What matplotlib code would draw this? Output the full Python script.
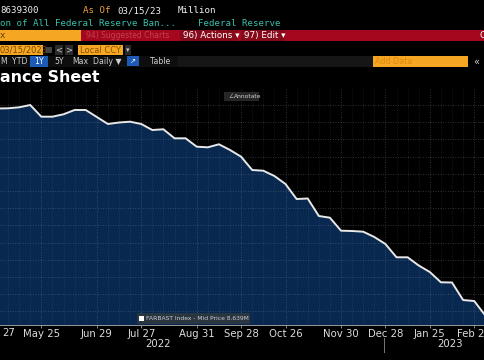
import matplotlib
matplotlib.use("Agg")
import matplotlib.pyplot as plt
import matplotlib.dates as mdates
from matplotlib.patches import Rectangle
from matplotlib.ticker import MultipleLocator, FixedLocator, NullFormatter
import datetime as dt

# ---------------- data (weekly, USD millions) ----------------
dates = ["2022-04-27", "2022-05-04", "2022-05-11", "2022-05-18", "2022-05-25",
         "2022-06-01", "2022-06-08", "2022-06-15", "2022-06-22", "2022-06-29",
         "2022-07-06", "2022-07-13", "2022-07-20", "2022-07-27", "2022-08-03",
         "2022-08-10", "2022-08-17", "2022-08-24", "2022-08-31", "2022-09-07",
         "2022-09-14", "2022-09-21", "2022-09-28", "2022-10-05", "2022-10-12",
         "2022-10-19", "2022-10-26", "2022-11-02", "2022-11-09", "2022-11-16",
         "2022-11-23", "2022-11-30", "2022-12-07", "2022-12-14", "2022-12-21",
         "2022-12-28", "2023-01-04", "2023-01-11", "2023-01-18", "2023-01-25",
         "2023-02-01", "2023-02-08", "2023-02-15", "2023-02-22", "2023-03-01",
         "2023-03-08", "2023-03-15"]
values = [8939800, 8940400, 8943300, 8950000, 8916000,
          8916000, 8923000, 8935500, 8935500, 8915100,
          8894800, 8899100, 8901500, 8894800, 8877300,
          8879400, 8853200, 8853200, 8828800, 8827000,
          8835800, 8819200, 8799700, 8761000, 8759000,
          8743600, 8720300, 8676700, 8678200, 8627300,
          8622400, 8584600, 8583700, 8581700, 8566300,
          8545900, 8507300, 8507300, 8483400, 8464500,
          8434600, 8434000, 8383100, 8380200, 8338100,
          8341600, 8639300]
tick_dates = ["2022-05-25", "2022-06-29", "2022-07-27", "2022-08-31",
              "2022-09-28", "2022-10-26", "2022-11-30", "2022-12-28", "2023-01-25",
              "2023-02-22"]
tick_labels = ["May 25", "Jun 29", "Jul 27", "Aug 31", "Sep 28",
               "Oct 26", "Nov 30", "Dec 28", "Jan 25", "Feb 22"]
cut_first_label = "27"          # tail of "Apr 27", cut by the left edge
year_labels = ["2022", "2023"]

# ---------------- figure ----------------
W, H = 485, 360
fig = plt.figure(figsize=(W / 100, H / 100), dpi=100, facecolor="black")

def fx(x):
    return x / W

def fy(y):
    return 1 - y / H

def rect(x0, y0, x1, y1, color, z=1):
    fig.add_artist(Rectangle((fx(x0), fy(y1)), fx(x1) - fx(x0), fy(y0) - fy(y1),
                             transform=fig.transFigure, facecolor=color,
                             edgecolor="none", zorder=z))

def txt(x, y, s, color="white", size=6.6, family="DejaVu Sans Mono", ha="left",
        weight="normal", z=3):
    fig.text(fx(x), fy(y), s, color=color, fontsize=size, family=family, ha=ha,
             va="center", weight=weight, zorder=z)

# ---------------- plot area ----------------
ax = fig.add_axes([0, fy(325), 1, fy(88) - fy(325)])
ax.set_facecolor("black")

x = [mdates.date2num(dt.datetime.strptime(d, "%Y-%m-%d")) for d in dates]
ref = mdates.date2num(dt.datetime(2022, 5, 25))
ax.set_xlim(ref - 26.05, ref + 279.8)
ax.set_ylim(8310465, 8999419)

ax.fill_between(x, values, 8000000, color="#09284f", linewidth=0, zorder=0.3)
ax.plot(x, values, color="#e8e8e8", linewidth=1.4, zorder=3)

tx = [mdates.date2num(dt.datetime.strptime(d, "%Y-%m-%d")) for d in tick_dates]
ax.xaxis.set_major_locator(FixedLocator(tx))
ax.set_xticklabels(tick_labels)
ax.xaxis.set_minor_locator(mdates.WeekdayLocator(byweekday=mdates.WE))
ax.yaxis.set_major_locator(MultipleLocator(50000))
ax.yaxis.set_major_formatter(NullFormatter())
ax.set_axisbelow(True)
ax.grid(True, which="major", axis="both", color="#6a7c90", linestyle=(0, (1, 2)),
        linewidth=0.6, alpha=0.55)
ax.grid(True, which="minor", axis="x", color="#6a7c90", linestyle=(0, (1, 2)),
        linewidth=0.5, alpha=0.35)
ax.tick_params(axis="x", which="major", colors="#9a9a9a", labelcolor="#dcdcdc",
               labelsize=7.3, length=2, width=0.6, pad=0.8)
ax.tick_params(axis="x", which="minor", length=0)
ax.tick_params(axis="y", length=0)
for s in ["top", "left", "right"]:
    ax.spines[s].set_visible(False)
ax.spines["bottom"].set_color("#9a9a9a")
ax.spines["bottom"].set_linewidth(0.7)

txt(8.5, 332.5, cut_first_label, color="#dcdcdc", size=7.3, family="DejaVu Sans", ha="center")

# legend box
rect(137, 313, 250, 323.5, "#2a3542", z=4)
rect(139.5, 315.5, 144.5, 320.5, "white", z=5)
txt(146, 318.3, "FARBAST Index - Mid Price 8.639M", color="#d0d0d0", size=4.3,
    family="DejaVu Sans", z=5)

# annotate label
rect(224, 91.5, 259, 101, "#262626", z=4)
txt(228, 96.3, "\u2220", color="#aaaaaa", size=4.3, family="DejaVu Sans", z=5)
txt(234, 96.3, "Annotate", color="#d0d0d0", size=4.3, family="DejaVu Sans", z=5)

# year labels and separator
txt(158, 344, year_labels[0], color="#dcdcdc", size=7.3, family="DejaVu Sans", ha="center")
txt(450, 344, year_labels[1], color="#dcdcdc", size=7.3, family="DejaVu Sans", ha="center")
fig.add_artist(plt.Line2D([fx(384), fx(384)], [fy(338), fy(352)], transform=fig.transFigure,
                          color="#777777", linewidth=0.7))

# ---------------- header ----------------
txt(0, 10.5, "8639300", color="#f0f0f0")
txt(83, 10.5, "As Of", color="#f0a040")
txt(117, 10.5, "03/15/23", color="#f0f0f0")
txt(178, 10.5, "Million", color="#f0f0f0")
txt(0, 23.5, "on of All Federal Reserve Ban...", color="#38c0ac")
txt(198, 23.5, "Federal Reserve", color="#38c0ac")

# red toolbar
rect(0, 30, 81, 41, "#f5a623")
txt(0, 35.5, "x", color="#6a3b00", size=6.5, family="DejaVu Sans")
rect(81, 30, 485, 41, "#a5081e")
txt(86, 35.5, "94) Suggested Charts", color="#c2404f", size=5.5, family="DejaVu Sans")
rect(180, 30, 238, 41, "#870a1a", z=2)
txt(183, 35.5, "96) Actions \u25be", color="white", size=6.3, family="DejaVu Sans")
rect(241, 30, 285, 41, "#870a1a", z=2)
txt(244, 35.5, "97) Edit \u25be", color="white", size=6.3, family="DejaVu Sans")
txt(480, 35.5, "C", color="white", size=6.5, family="DejaVu Sans")

# date row
rect(0, 45, 43, 55, "#f5a623")
txt(0, 50.2, "03/15/2023", color="#7a4700", size=6.0, family="DejaVu Sans")
rect(46, 47, 52, 53, "#444444")
rect(55, 45, 63, 55, "#2a2a2a")
txt(59, 50.2, "<", color="#cccccc", size=6, family="DejaVu Sans", ha="center")
rect(65, 45, 73, 55, "#2a2a2a")
txt(69, 50.2, ">", color="#cccccc", size=6, family="DejaVu Sans", ha="center")
rect(78, 45, 123, 55, "#f5a623")
txt(80, 50.2, "Local CCY", color="#8a5200", size=6.0, family="DejaVu Sans")
rect(125, 45, 131, 55, "#2a2a2a")
txt(128, 50.2, "\u25be", color="#cccccc", size=5, family="DejaVu Sans", ha="center")

# range row
rect(0, 56, 178, 66.5, "#0e0e0e")
txt(0, 61.3, "M", color="#cfcfcf", size=5.6, family="DejaVu Sans")
txt(12, 61.3, "YTD", color="#cfcfcf", size=5.6, family="DejaVu Sans")
rect(30, 56, 48, 66.5, "#1e5bb8", z=2)
txt(39, 61.3, "1Y", color="white", size=5.6, family="DejaVu Sans", ha="center")
txt(54, 61.3, "5Y", color="#cfcfcf", size=5.6, family="DejaVu Sans")
txt(72, 61.3, "Max", color="#cfcfcf", size=5.6, family="DejaVu Sans")
txt(93, 61.3, "Daily \u25bc", color="#cfcfcf", size=5.6, family="DejaVu Sans")
rect(127, 56.5, 139, 66, "#1e5bb8", z=2)
txt(133, 61.3, "\u2197", color="white", size=5.2, family="DejaVu Sans", ha="center")
txt(150, 61.3, "Table", color="#cfcfcf", size=5.6, family="DejaVu Sans")
rect(178, 56, 373, 66.5, "#161616")
rect(373, 56, 468, 66.5, "#f5a623")
txt(375, 61.3, "Add Data", color="#e08a10", size=5.8, family="DejaVu Sans")
txt(473, 61.3, "\u00ab", color="#cfcfcf", size=7, family="DejaVu Sans")

# title
txt(0, 77.5, "ance Sheet", color="white", size=11.4, family="DejaVu Sans", weight="bold")

fig.savefig("out.png", dpi=100, facecolor="black")
